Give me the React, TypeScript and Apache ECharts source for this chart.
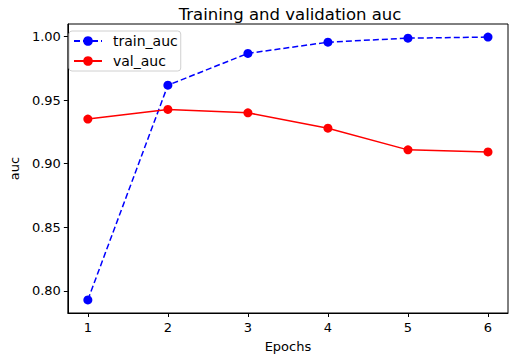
import React, { useEffect, useRef } from "react";
import * as echarts from "echarts";

const epochs = [1, 2, 3, 4, 5, 6];
const trainAuc = [0.793, 0.9617, 0.9867, 0.9955, 0.9987, 0.9995];
const valAuc = [0.9351, 0.9427, 0.94, 0.9279, 0.9109, 0.9093];
const xTicks = [1, 2, 3, 4, 5, 6];
const yTicks = [0.8, 0.85, 0.9, 0.95, 1.0];

export default function App() {
  const ref = useRef<HTMLDivElement>(null);
  useEffect(() => {
    const chart = echarts.init(ref.current!, null, { renderer: "svg" });
    const font = "DejaVu Sans";
    chart.setOption({
      animation: false,
      backgroundColor: "#fff",
      textStyle: { fontFamily: font },
      title: {
        text: "Training and validation auc",
        left: 285,
        textAlign: "center",
        top: 1,
        textStyle: { fontFamily: font, fontSize: 16.5, fontWeight: "normal", color: "#000" },
      },
      legend: {
        left: 69,
        top: 31,
        orient: "vertical",
        itemWidth: 28,
        itemHeight: 12,
        itemGap: 4,
        padding: [2, 3, 2, 4],
        borderColor: "#d0d0d0",
        borderWidth: 1,
        borderRadius: 3,
        backgroundColor: "rgba(255,255,255,0.8)",
        textStyle: { fontFamily: font, fontSize: 14, color: "#000", padding: [0, 0, 0, 6], lineHeight: 16 },
        data: ["train_auc", "val_auc"],
      },
      grid: {
        left: 62,
        right: 12,
        top: 24,
        bottom: 50,
        show: true,
        borderColor: "#000",
        borderWidth: 1,
      },
      xAxis: {
        type: "value",
        min: 0.75,
        max: 6.25,
        name: "Epochs",
        nameLocation: "middle",
        nameGap: 27,
        nameTextStyle: { fontFamily: font, fontSize: 13, color: "#000" },
        axisLine: { show: true, lineStyle: { color: "#000" } },
        axisTick: { show: true, length: 4, customValues: xTicks, lineStyle: { color: "#000" } },
        axisLabel: { customValues: xTicks, fontFamily: font, fontSize: 13, color: "#000", margin: 8 },
        splitLine: { show: false },
      },
      yAxis: {
        type: "value",
        min: 0.7827,
        max: 1.0098,
        name: "auc",
        nameLocation: "middle",
        nameGap: 45,
        nameTextStyle: { fontFamily: font, fontSize: 13, color: "#000" },
        axisLine: { show: true, lineStyle: { color: "#000" } },
        axisTick: { show: true, length: 4, customValues: yTicks, lineStyle: { color: "#000" } },
        axisLabel: {
          customValues: yTicks,
          fontFamily: font,
          fontSize: 13,
          color: "#000",
          margin: 7,
          formatter: (v: number) => v.toFixed(2),
        },
        splitLine: { show: false },
      },
      series: [
        {
          name: "train_auc",
          type: "line",
          data: epochs.map((e, i) => [e, trainAuc[i]]),
          symbol: "circle",
          symbolSize: 9,
          color: "#0000ff",
          lineStyle: { color: "#0000ff", width: 1.5, type: [6, 3] },
          itemStyle: { color: "#0000ff" },
        },
        {
          name: "val_auc",
          type: "line",
          data: epochs.map((e, i) => [e, valAuc[i]]),
          symbol: "circle",
          symbolSize: 9,
          color: "#ff0000",
          lineStyle: { color: "#ff0000", width: 1.5 },
          itemStyle: { color: "#ff0000" },
        },
      ],
    });
    return () => chart.dispose();
  }, []);
  return <div ref={ref} style={{ width: 520, height: 363, position: "absolute", left: 0, top: 0 }} />;
}
